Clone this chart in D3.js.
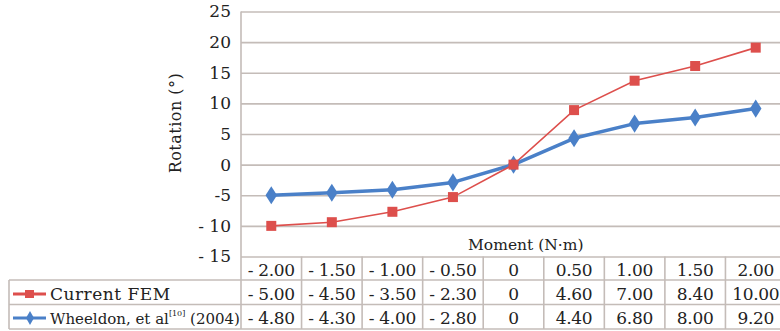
<!DOCTYPE html>
<html><head><meta charset="utf-8">
<script src="https://cdn.jsdelivr.net/npm/d3@7"></script>
<style>
html,body{margin:0;padding:0;background:#fff;}
</style></head>
<body><svg id="c" width="780" height="331"></svg>
<script>
// ---- data ----
const categories = ["- 2.00","- 1.50","- 1.00","- 0.50","0","0.50","1.00","1.50","2.00"];
const femValues = [-10.0, -9.4, -7.7, -5.3, 0, 8.9, 13.7, 16.1, 19.1];
const wheeldonValues = [-5.0, -4.6, -4.1, -2.9, 0, 4.3, 6.7, 7.7, 9.15];
const femTable = ["- 5.00","- 4.50","- 3.50","- 2.30","0","4.60","7.00","8.40","10.00"];
const wheeldonTable = ["- 4.80","- 4.30","- 4.00","- 2.80","0","4.40","6.80","8.00","9.20"];
const yTicks = [-15,-10,-5,0,5,10,15,20,25];
const yTickLabels = ["- 15","- 10","-5","0","5","10","15","20","25"];
const seriesNames = ["Current FEM","Wheeldon, et al"];

(function(){
const svg = d3.select("#c");
const pLeft = 241, pRight = 786, pTop = 11.5, pBottom = 256.5;
const rowLines = [280, 304.5, 329];
const gridColor = "#c4bcb8";
const red = "#dd4f4c", blue = "#4a80c8";
const FONT = "'DejaVu Serif', serif";

const x = d3.scaleBand().domain(categories).range([pLeft, pRight]).padding(0);
const y = d3.scaleLinear().domain([-15, 25]).range([pBottom, pTop]);
const cx = d => x(d) + x.bandwidth()/2;

// gridlines
const grid = svg.append("g").attr("transform", `translate(${pLeft},0)`)
  .call(d3.axisLeft(y).tickValues(yTicks).tickSize(-(pRight-pLeft)).tickFormat(""));
grid.select(".domain").remove();
grid.selectAll("line").attr("stroke", gridColor).attr("stroke-width", 1.6);

// y axis labels
const ya = svg.append("g").attr("transform", `translate(${pLeft},0)`)
  .call(d3.axisLeft(y).tickValues(yTicks).tickSize(0).tickPadding(10)
    .tickFormat((d,i) => yTickLabels[i]));
ya.attr("font-family", FONT);
ya.select(".domain").remove();
ya.selectAll("text").attr("font-size", 17).attr("fill", "#222");

// table lines
const tbl = svg.append("g").attr("stroke", gridColor).attr("stroke-width", 1.6);
const edges = categories.map(c => x(c)).concat([pRight]);
tbl.selectAll("line.v").data(edges).join("line").attr("class","v")
  .attr("x1", d => d).attr("x2", d => d)
  .attr("y1", (d,i) => i === 0 ? pTop : pBottom).attr("y2", rowLines[2]);
tbl.selectAll("line.h").data(rowLines).join("line").attr("class","h")
  .attr("x1", 9).attr("x2", pRight).attr("y1", d => d).attr("y2", d => d);
tbl.append("line").attr("x1", 9).attr("x2", 9).attr("y1", rowLines[0]).attr("y2", rowLines[2]);

// series lines
const line = d3.line().x((d,i) => cx(categories[i])).y(d => y(d));
svg.append("path").datum(wheeldonValues).attr("d", line)
  .attr("fill","none").attr("stroke", blue).attr("stroke-width", 3.5).attr("stroke-linejoin","round");
svg.append("path").datum(femValues).attr("d", line)
  .attr("fill","none").attr("stroke", red).attr("stroke-width", 1.6);

// markers
const diamond = d3.symbol().type(d3.symbolDiamond).size(95);
svg.append("g").selectAll("path").data(wheeldonValues).join("path")
  .attr("d", diamond)
  .attr("transform", (d,i) => `translate(${cx(categories[i])},${y(d)}) scale(1.1,1)`)
  .attr("fill", blue);
svg.append("g").selectAll("rect").data(femValues).join("rect")
  .attr("x", (d,i) => cx(categories[i]) - 5).attr("y", d => y(d) - 5)
  .attr("width", 10).attr("height", 10).attr("fill", red);

// x axis title
svg.append("text").attr("x", 468).attr("y", 250).attr("font-size", 15.5)
  .attr("font-family", FONT).attr("fill", "#222").text("Moment (N·m)");

// y axis title
svg.append("text").attr("transform", "translate(181,123) rotate(-90)")
  .attr("text-anchor", "middle").attr("font-size", 16).attr("letter-spacing", 0.5)
  .attr("font-family", FONT).attr("fill", "#222").text("Rotation (°)");

// table text
const rowsText = [categories, femTable, wheeldonTable];
const baselines = [276, 300, 324];
rowsText.forEach((row, r) => {
  svg.append("g").selectAll("text").data(row).join("text")
    .attr("x", (d,i) => cx(categories[i])).attr("y", baselines[r])
    .attr("text-anchor", "middle").attr("font-size", 17).attr("font-family", FONT).attr("fill", "#222")
    .attr("letter-spacing", -0.3)
    .text(d => d);
});

// legend in table
const leg = svg.append("g");
[[red, "square"], [blue, "diamond"]].forEach(([col, shape], i) => {
  const yy = baselines[i+1] - 6;
  leg.append("line").attr("x1", 13).attr("x2", 46).attr("y1", yy).attr("y2", yy)
    .attr("stroke", col).attr("stroke-width", 3);
  if (shape === "square") {
    leg.append("rect").attr("x", 25).attr("y", yy - 4).attr("width", 9).attr("height", 8).attr("fill", col);
  } else {
    leg.append("path").attr("d", d3.symbol().type(d3.symbolDiamond).size(55)())
      .attr("transform", `translate(30,${yy})`).attr("fill", col);
  }
});
leg.append("text").attr("x", 50).attr("y", baselines[1]).attr("font-size", 17)
  .attr("font-family", FONT).attr("letter-spacing", 0.5).attr("fill", "#222").text(seriesNames[0]);
const t2 = leg.append("text").attr("x", 50).attr("y", baselines[2]).attr("font-size", 15)
  .attr("font-family", FONT).attr("letter-spacing", 0).attr("fill", "#222");
t2.append("tspan").text(seriesNames[1]);
t2.append("tspan").attr("font-size", 8).attr("dy", -8).text("[10]");
t2.append("tspan").attr("dy", 8).text(" (2004)");
})();
</script></body></html>
